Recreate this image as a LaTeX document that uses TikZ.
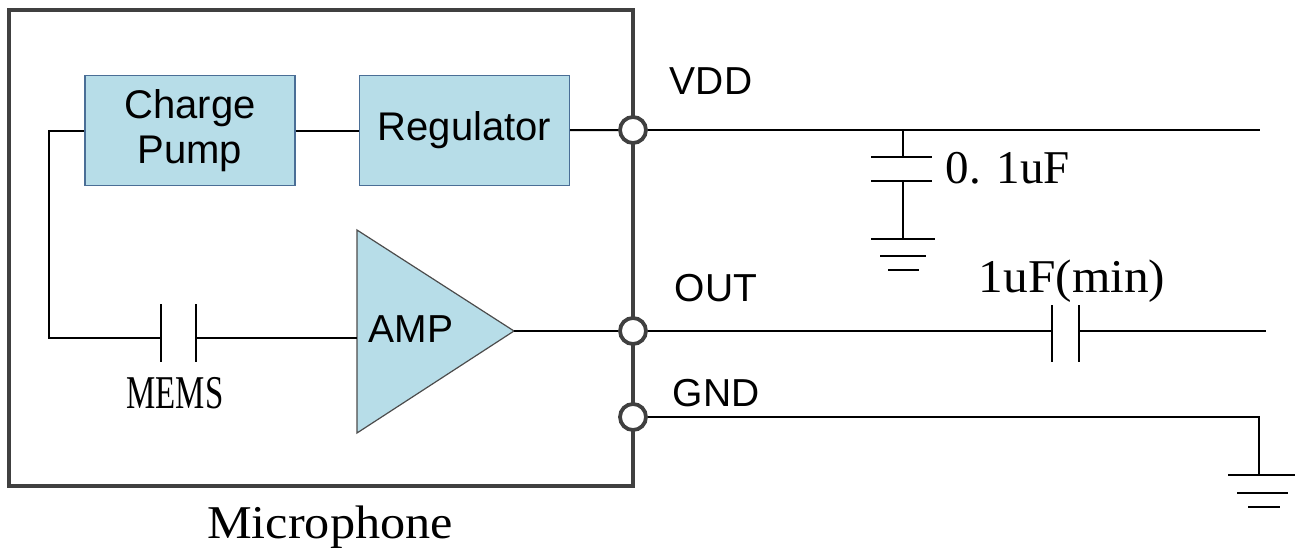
\documentclass[tikz,border=0pt]{standalone}
\usepackage{fontspec}
\setmainfont{Liberation Sans}
\newfontfamily\simfont{Liberation Serif}
\definecolor{boxfill}{HTML}{B7DDE8}
\definecolor{boxline}{HTML}{4A6E96}
\definecolor{frame}{HTML}{404040}
\tikzset{
 wire/.style={line width=2pt, draw=black},
 frameline/.style={line width=4.5pt, draw=frame},
 blockbox/.style={draw=boxline, line width=1.2pt, fill=boxfill, minimum width=210pt, minimum height=110pt, inner sep=0pt, align=center, font=\fontsize{40}{45}\selectfont},
 pin/.style={circle, draw=frame, line width=3.8pt, fill=white, minimum size=26pt, inner sep=0pt},
 pinlabel/.style={font=\fontsize{39}{44}\selectfont, inner sep=0pt},
 vlabel/.style={font=\simfont\fontsize{47}{52}\selectfont, inner sep=0pt},
 amptri/.style={fill=boxfill, draw=gray!60!black, line width=1.2pt},
}
\begin{document}
\begin{tikzpicture}[x=1pt,y=-1pt]
\useasboundingbox (0,0) rectangle (1296,554);
% frame
\draw[frameline] (9,10) rectangle (633,486);
% blocks
\node[blockbox] (cp) at (190,130.5) {Charge\\Pump};
\node[blockbox] (reg) at (464.5,130.5) {Regulator};
% pins
\node[pin] (vdd) at (633,130) {};
\node[pin] (out) at (633,331) {};
\node[pin] (gnd) at (633,417) {};
% internal wires
\draw[wire] (cp) -- (reg);
\draw[wire] (reg) -- (vdd);
\coordinate (ml) at (161,338);
\coordinate (mr) at (196,338);
\coordinate (m1t) at (161,304); \coordinate (m1b) at (161,362);
\coordinate (m2t) at (196,304); \coordinate (m2b) at (196,362);
\draw[wire] (cp.west) -- ++(-35,0) |- (ml);
\draw[wire] (m1t) -- (m1b);
\draw[wire] (m2t) -- (m2b);
% amplifier
\coordinate (ampT) at (357,230);
\coordinate (ampB) at (357,433);
\coordinate (ampO) at (514,331);
\coordinate (ampI) at (357,338);
\draw[amptri] (ampT) -- (ampO) -- (ampB) -- cycle;
\node[pinlabel] (amptext) at (411,329) {AMP};
\draw[wire] (mr) -- (ampI);
\draw[wire] (ampO) -- (out);
% VDD side
\coordinate (vddend) at (1260,130);
\coordinate (c1a) at (903,130);
\coordinate (c1t) at (903,157);
\coordinate (c1b) at (903,181);
\coordinate (g1) at (903,239);
\draw[wire] (vdd) -- (vddend);
\draw[wire] (c1a) -- (c1t);
\draw[wire] (871,157) -- (932,157);
\draw[wire] (871,181) -- (932,181);
\draw[wire] (c1b) -- (g1);
\draw[wire] (871,239) -- (935,239);
\draw[wire] (880,256) -- (926,256);
\draw[wire] (888,270) -- (919,270);
% OUT side
\coordinate (c2l) at (1052,331);
\coordinate (c2r) at (1079,331);
\coordinate (outend) at (1266,331);
\draw[wire] (out) -- (c2l);
\draw[wire] (1052,305) -- (1052,362);
\draw[wire] (1079,305) -- (1079,362);
\draw[wire] (c2r) -- (outend);
% GND side
\coordinate (gc) at (1259,417);
\coordinate (g2) at (1259,475);
\draw[wire] (gnd) -- (gc) -- (g2);
\draw[wire] (1228,475) -- (1295,475);
\draw[wire] (1237,493) -- (1288,493);
\draw[wire] (1248,507) -- (1280,507);
% labels
\node[pinlabel] (lvdd) at (711,81) {VDD};
\node[pinlabel] (lout) at (716,288) {OUT};
\node[pinlabel] (lgnd) at (716,393) {GND};
\node[vlabel] (lc1) at (1008,168) {\scalebox{1.0}[1]{0. 1uF}};
\node[vlabel] (lc2) at (1072,281) {\scalebox{1.05}[1]{1uF(min)}};
\node[vlabel] (lmems) at (175,393) {\scalebox{0.7}[1]{MEMS}};
\node[vlabel] (lmic) at (330,527) {\scalebox{1.07}[1]{Microphone}};
\end{tikzpicture}
\end{document}
